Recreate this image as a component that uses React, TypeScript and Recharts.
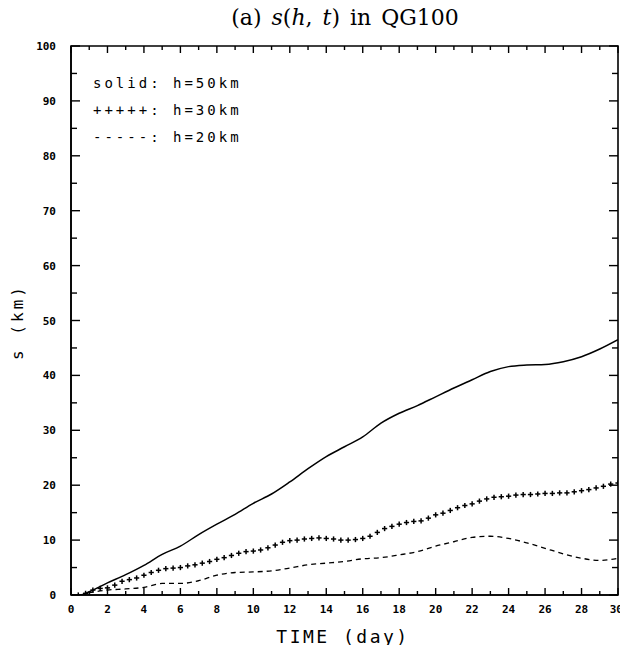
import { LineChart, Line, XAxis, YAxis, ReferenceArea } from "recharts";

// sampled days for the solid and dashed curves
const days = [0, 0.5, 1, 2, 3, 4, 5, 6, 7, 8, 9, 10, 11, 12, 13, 14, 15, 16, 17, 18, 19, 20, 21, 22, 23, 24, 25, 26, 27, 28, 29, 30];

// h = 50km (solid)
const sH50 = [0, 0, 0.6, 2.2, 3.7, 5.4, 7.4, 8.9, 11.0, 12.9, 14.7, 16.7, 18.4, 20.6, 23.0, 25.2, 27.0, 28.8, 31.3, 33.1, 34.5, 36.1, 37.7, 39.2, 40.7, 41.6, 41.9, 42.0, 42.5, 43.4, 44.8, 46.5];

// h = 20km (dashed)
const sH20 = [0, 0, 0.4, 0.9, 1.1, 1.4, 2.1, 2.1, 2.6, 3.6, 4.1, 4.2, 4.4, 4.9, 5.5, 5.8, 6.1, 6.6, 6.8, 7.3, 7.9, 8.9, 9.7, 10.5, 10.7, 10.3, 9.5, 8.5, 7.5, 6.7, 6.3, 6.7];

// h = 30km (+ markers), one value every PLUS_STEP days from day 0
const PLUS_STEP = 0.4;
const sH30 = [
  0, 0, 0.3, 0.9, 1.2, 1.3, 1.8, 2.5, 2.8, 3.1,
  3.6, 4.1, 4.5, 4.8, 4.9, 5.0, 5.3, 5.5, 5.8, 6.1,
  6.5, 6.8, 7.2, 7.6, 7.9, 8.0, 8.2, 8.6, 9.1, 9.6,
  9.9, 10.0, 10.2, 10.3, 10.4, 10.3, 10.2, 10.0, 10.0, 10.1,
  10.3, 10.7, 11.4, 12.1, 12.5, 12.9, 13.2, 13.4, 13.5, 14.0,
  14.6, 14.9, 15.4, 15.9, 16.3, 16.6, 17.1, 17.5, 17.8, 17.9,
  18.0, 18.2, 18.3, 18.3, 18.4, 18.5, 18.5, 18.6, 18.6, 18.8,
  19.0, 19.2, 19.5, 19.8, 20.2, 20.4,
];

const xTicks = [0, 1, 2, 3, 4, 5, 6, 7, 8, 9, 10, 11, 12, 13, 14, 15, 16, 17, 18, 19, 20, 21, 22, 23, 24, 25, 26, 27, 28, 29, 30];
const yTicks = [0, 5, 10, 15, 20, 25, 30, 35, 40, 45, 50, 55, 60, 65, 70, 75, 80, 85, 90, 95, 100];

const legendRows = ["solid: h=50km", "+++++: h=30km", "-----: h=20km"];

const W = 620;
const H = 630;
const MARGIN = { top: 38, right: 10, bottom: 13, left: 13 };
const PLOT_TOP = MARGIN.top;
const PLOT_RIGHT = W - MARGIN.right;

const mono = "'DejaVu Sans Mono', 'Liberation Mono', monospace";

const mainData = days.map((d, i) => ({ day: d, s50: sH50[i], s20: sH20[i] }));
const plusData = sH30.map((v, i) => ({ day: Number((i * PLUS_STEP).toFixed(1)), s30: v }));

function TimeTick(props: any) {
  const { x, y, payload } = props;
  const v = payload.value as number;
  const major = v % 2 === 0;
  const len = major ? 7 : 4;
  // the last label sits a little inside, as in the plotter output
  const last = v === xTicks[xTicks.length - 1];
  return (
    <g>
      <line x1={x} y1={y} x2={x} y2={y - len} stroke="#000" strokeWidth={1.4} />
      <line x1={x} y1={PLOT_TOP} x2={x} y2={PLOT_TOP + len} stroke="#000" strokeWidth={1.4} />
      {major && (
        <text
          x={last ? x + 5 : x}
          y={y + 18}
          textAnchor={last ? "end" : "middle"}
          fontFamily={mono}
          fontWeight="bold"
          fontSize={11}
          fill="#000"
        >
          {v}
        </text>
      )}
    </g>
  );
}

function KmTick(props: any) {
  const { x, y, payload } = props;
  const v = payload.value as number;
  const major = v % 10 === 0;
  const len = major ? 9 : 6;
  return (
    <g>
      <line x1={x} y1={y} x2={x + len} y2={y} stroke="#000" strokeWidth={1.4} />
      <line x1={PLOT_RIGHT} y1={y} x2={PLOT_RIGHT - len} y2={y} stroke="#000" strokeWidth={1.4} />
      {major && (
        <text x={x - 15} y={y + 4} textAnchor="end" fontFamily={mono} fontWeight="bold" fontSize={11} fill="#000">
          {v}
        </text>
      )}
    </g>
  );
}

function PlusDot(props: any) {
  const { cx, cy, index } = props;
  if (cx == null || cy == null) return <g key={index} />;
  const a = 2.6;
  return (
    <g key={index}>
      <line x1={cx - a} y1={cy} x2={cx + a} y2={cy} stroke="#000" strokeWidth={1.5} />
      <line x1={cx} y1={cy - a} x2={cx} y2={cy + a} stroke="#000" strokeWidth={1.5} />
    </g>
  );
}

export default function App() {
  return (
    <div style={{ position: "relative", width: W, height: 645, marginBottom: -8, background: "#fff" }}>
      <div
        style={{
          position: "absolute",
          left: 0,
          width: W,
          top: -2,
          textAlign: "center",
          paddingLeft: 54,
          boxSizing: "border-box",
          fontFamily: "'DejaVu Serif', 'Liberation Serif', serif",
          fontSize: 22,
          lineHeight: "24px",
          wordSpacing: 3,
          color: "#000",
        }}
      >
        (a) <i>s</i>(<i>h</i>, <i>t</i>) in QG100
      </div>

      <LineChart width={W} height={H} margin={MARGIN}>
        <XAxis
          dataKey="day"
          type="number"
          domain={[0, 30]}
          ticks={xTicks}
          interval={0}
          height={30}
          tickSize={0}
          tickMargin={0}
          tickLine={false}
          tick={<TimeTick />}
          axisLine={{ stroke: "#000", strokeWidth: 1.6 }}
          allowDataOverflow
        />
        <YAxis
          type="number"
          domain={[0, 100]}
          ticks={yTicks}
          interval={0}
          width={50}
          tickSize={0}
          tickMargin={0}
          tickLine={false}
          tick={<KmTick />}
          axisLine={{ stroke: "#000", strokeWidth: 1.6 }}
          allowDataOverflow
        />
        <ReferenceArea x1={0} x2={30} y1={0} y2={100} fill="none" stroke="#000" strokeWidth={1.6} />
        <Line
          data={mainData}
          dataKey="s50"
          type="monotone"
          stroke="#000"
          strokeWidth={1.5}
          dot={false}
          isAnimationActive={false}
        />
        <Line
          data={mainData}
          dataKey="s20"
          type="monotone"
          stroke="#000"
          strokeWidth={1.3}
          strokeDasharray="5 4"
          dot={false}
          isAnimationActive={false}
        />
        <Line
          data={plusData}
          dataKey="s30"
          type="monotone"
          stroke="none"
          dot={<PlusDot />}
          isAnimationActive={false}
        />
      </LineChart>

      <div style={{ position: "absolute", left: 85, top: 62, fontFamily: mono, fontSize: 14, letterSpacing: 3, color: "#000" }}>
        {legendRows.map((r) => (
          <div key={r} style={{ height: 27, lineHeight: "27px", whiteSpace: "pre" }}>
            {r}
          </div>
        ))}
      </div>

      <div
        style={{
          position: "absolute",
          left: 9,
          top: 314,
          transform: "translate(-50%, -50%) rotate(-90deg)",
          fontFamily: mono,
          fontSize: 16,
          letterSpacing: 3,
          whiteSpace: "pre",
          color: "#000",
        }}
      >
        s (km)
      </div>

      <div
        style={{
          position: "absolute",
          left: 335,
          top: 628,
          transform: "translate(-50%, -50%)",
          fontFamily: mono,
          fontSize: 18,
          letterSpacing: 2.5,
          whiteSpace: "pre",
          color: "#000",
        }}
      >
        TIME (day)
      </div>
    </div>
  );
}
